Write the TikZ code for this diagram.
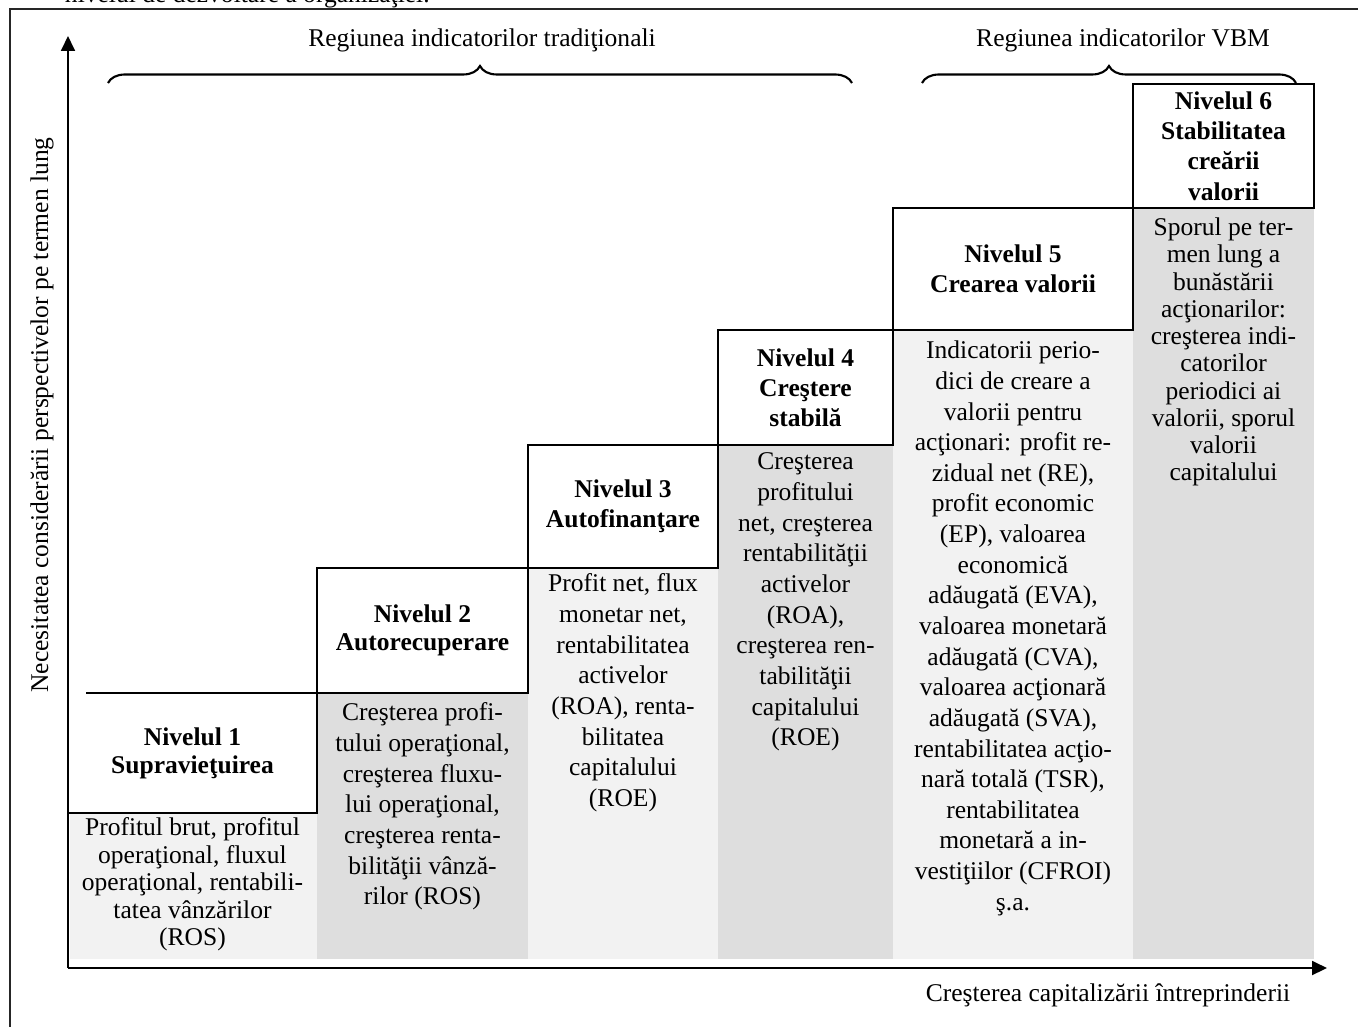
\documentclass[tikz,border=0pt]{standalone}
\usepackage{fontspec}
\setmainfont{Liberation Serif}
\usetikzlibrary{arrows.meta,decorations.pathreplacing}
\newcommand\pxu{0.47pt}
\definecolor{lightcol}{HTML}{F2F2F2}
\definecolor{darkcol}{HTML}{DEDEDE}
\definecolor{framecol}{HTML}{262626}
\begin{document}
\begin{tikzpicture}[x=0.47pt,y=-0.47pt,
  every node/.style={inner sep=0pt, outer sep=0pt},
  boxline/.style={draw=black, line width=1pt},
  lvlbox/.style={boxline, fill=white, anchor=north west, align=center,
    font=\bfseries\fontsize{12}{14.2}\selectfont},
  lvltext/.style={anchor=north west, align=center,
    font=\bfseries\fontsize{12}{13.2}\selectfont},
  coltext/.style={anchor=north, align=center, font=\fontsize{12}{14.4}\selectfont},
  axisline/.style={line width=1.1pt, -{Triangle[length=7pt,width=6.5pt]}},
  regbrace/.style={decorate, decoration={brace, amplitude=8pt}, line width=1pt},
  lbl/.style={font=\fontsize{12}{14}\selectfont}
]
\useasboundingbox (0,0) rectangle (1358,1027);
\begin{scope}
\clip (0,0) rectangle (1358,1027);

% caption line running above the frame
\node[lbl, anchor=base west] (captail) at (65,2) {nivelul de dezvoltare a organizaţiei.};

% outer frame
\draw[framecol, line width=1pt] (10,1040) -- (10,9) -- (1370,9);

% shaded indicator columns
\fill[lightcol] (70,813)   rectangle (317,959);
\fill[darkcol]  (317,693)  rectangle (528,959);
\fill[lightcol] (528,568)  rectangle (718,959);
\fill[darkcol]  (718,445)  rectangle (893,959);
\fill[lightcol] (893,330)  rectangle (1133,959);
\fill[darkcol]  (1133,208) rectangle (1314,959);

% level headings
\node[lvltext, minimum width=249*\pxu, minimum height=120*\pxu] (n1) at (68,693)
  {Nivelul 1\\Supravieţuirea};
\draw[boxline] ([xshift=18*\pxu]n1.north west) -- (n1.north east) -- (n1.south east)
  -- (n1.south west) -- ([yshift=-9*\pxu]n1.north west);
\node[lvlbox, font=\bfseries\fontsize{12}{13.2}\selectfont,
  minimum width=211*\pxu, minimum height=125*\pxu] (n2) at (317,568)
  {Nivelul 2\\Autorecuperare};
\node[lvlbox, minimum width=190*\pxu, minimum height=123*\pxu] (n3) at (528,445)
  {Nivelul 3\\Autofinanţare};
\node[lvlbox, minimum width=175*\pxu, minimum height=115*\pxu] (n4) at (718,330)
  {Nivelul 4\\Creştere\\stabilă};
\node[lvlbox, minimum width=240*\pxu, minimum height=122*\pxu] (n5) at (893,208)
  {Nivelul 5\\Crearea valorii};
\node[lvlbox, minimum width=181*\pxu, minimum height=124*\pxu] (n6) at (1133,84)
  {Nivelul 6\\Stabilitatea\\creării\\valorii};

% indicators of each level
\node[coltext, font=\fontsize{12}{12.9}\selectfont] (t1) at (192.5,818)
  {Profitul brut, profitul\\operaţional, fluxul\\operaţional, rentabili-\\tatea vânzărilor\\(ROS)};
\node[coltext] (t2) at (422.5,703)
  {Creşterea profi-\\tului operaţional,\\creşterea fluxu-\\lui operaţional,\\creşterea renta-\\bilităţii vânză-\\rilor (ROS)};
\node[coltext] (t3) at (623,574)
  {Profit net, flux\\monetar net,\\rentabilitatea\\activelor\\(ROA), renta-\\bilitatea\\capitalului\\(ROE)};
\node[coltext] (t4) at (805.5,453)
  {Creşterea\\profitului\\net, creşterea\\rentabilităţii\\activelor\\(ROA),\\creşterea ren-\\tabilităţii\\capitalului\\(ROE)};
\node[coltext] (t5) at (1013,341)
  {Indicatorii perio-\\dici de creare a\\valorii pentru\\acţionari: profit re-\\zidual net (RE),\\profit economic\\(EP), valoarea\\economică\\adăugată (EVA),\\valoarea monetară\\adăugată (CVA),\\valoarea acţionară\\adăugată (SVA),\\rentabilitatea acţio-\\nară totală (TSR),\\rentabilitatea\\monetară a in-\\vestiţiilor (CFROI)\\ş.a.};
\node[coltext, font=\fontsize{12}{12.8}\selectfont] (t6) at (1223.5,218)
  {Sporul pe ter-\\men lung a\\bunăstării\\acţionarilor:\\creşterea indi-\\catorilor\\periodici ai\\valorii, sporul\\valorii\\capitalului};

% axes
\coordinate (origin) at (68,968);
\coordinate (ytip) at (68,36);
\coordinate (xtip) at (1327,968);
\draw[axisline] (origin) -- (ytip);
\draw[axisline] (origin) -- (xtip);
\node[lbl, rotate=90] (ylab) at (42,415)
  {Necesitatea considerării perspectivelor pe termen lung};
\node[lbl] (xlab) at (1108,995) {Creşterea capitalizării întreprinderii};

% indicator regions
\coordinate (b1l) at (108,83);
\coordinate (b1r) at (852,83);
\coordinate (b2l) at (922,83);
\coordinate (b2r) at (1296,83);
\draw[regbrace] (b1l) -- (b1r);
\draw[regbrace] (b2l) -- (b2r);
\node[lbl] (r1) at (482,40) {Regiunea indicatorilor tradiţionali};
\node[lbl] (r2) at (1123,40) {Regiunea indicatorilor VBM};
\end{scope}
\end{tikzpicture}
\end{document}
